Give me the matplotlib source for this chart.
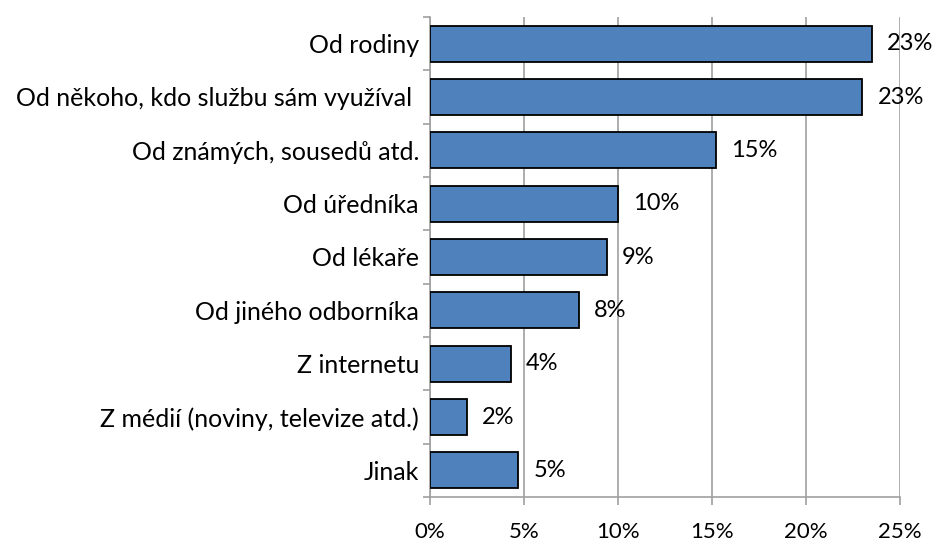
import matplotlib
matplotlib.use("Agg")
import matplotlib.pyplot as plt
from matplotlib.ticker import FuncFormatter, FixedLocator

categories = [
    "Od rodiny",
    "Od někoho, kdo službu sám využíval ",
    "Od známých, sousedů atd.",
    "Od úředníka",
    "Od lékaře",
    "Od jiného odborníka",
    "Z internetu",
    "Z médií (noviny, televize atd.)",
    "Jinak",
]
values = [23.5, 23.0, 15.2, 10.0, 9.4, 7.9, 4.3, 1.95, 4.7]
labels = ["23%", "23%", "15%", "10%", "9%", "8%", "4%", "2%", "5%"]
xticks = [0, 5, 10, 15, 20, 25]

plt.rcParams['font.family'] = ['Lato', 'DejaVu Sans']

fig = plt.figure(figsize=(9.33, 5.43), dpi=100)
ax = fig.add_axes([430/933, 1 - 497/543, 470/933, 480/543])

n = len(categories)
ypos = list(range(n))
ax.barh(ypos, values, height=0.67, color="#4F81BD", edgecolor="black", linewidth=1.3, zorder=3)
ax.set_ylim(n - 0.5, -0.5)
ax.set_xlim(0, 25)

ax.xaxis.set_major_locator(FixedLocator(xticks))
ax.xaxis.set_major_formatter(FuncFormatter(lambda v, p: f"{int(v)}%"))
ax.grid(axis="x", color="#A0A0A0", linewidth=1.2, zorder=0)
ax.set_axisbelow(True)

ax.set_yticks(ypos)
ax.set_yticklabels(categories, fontsize=18)
ax.tick_params(axis="y", which="major", length=0, pad=8)
ax.set_yticks([i - 0.5 for i in range(n + 1)], minor=True)
ax.tick_params(axis="y", which="minor", length=5, color="#A0A0A0", width=1.2)
ax.tick_params(axis="x", length=6, color="#A0A0A0", width=1.2, labelsize=16, pad=12)

for s in ["top", "right"]:
    ax.spines[s].set_visible(False)
for s in ["left", "bottom"]:
    ax.spines[s].set_color("#A0A0A0")
    ax.spines[s].set_linewidth(1.2)

for y, v, lab in zip(ypos, values, labels):
    ax.annotate(lab, xy=(v, y), xytext=(11, 0), textcoords="offset points",
                va="center", ha="left", fontsize=17, zorder=4, annotation_clip=False)

fig.savefig("out.png", dpi=100)
